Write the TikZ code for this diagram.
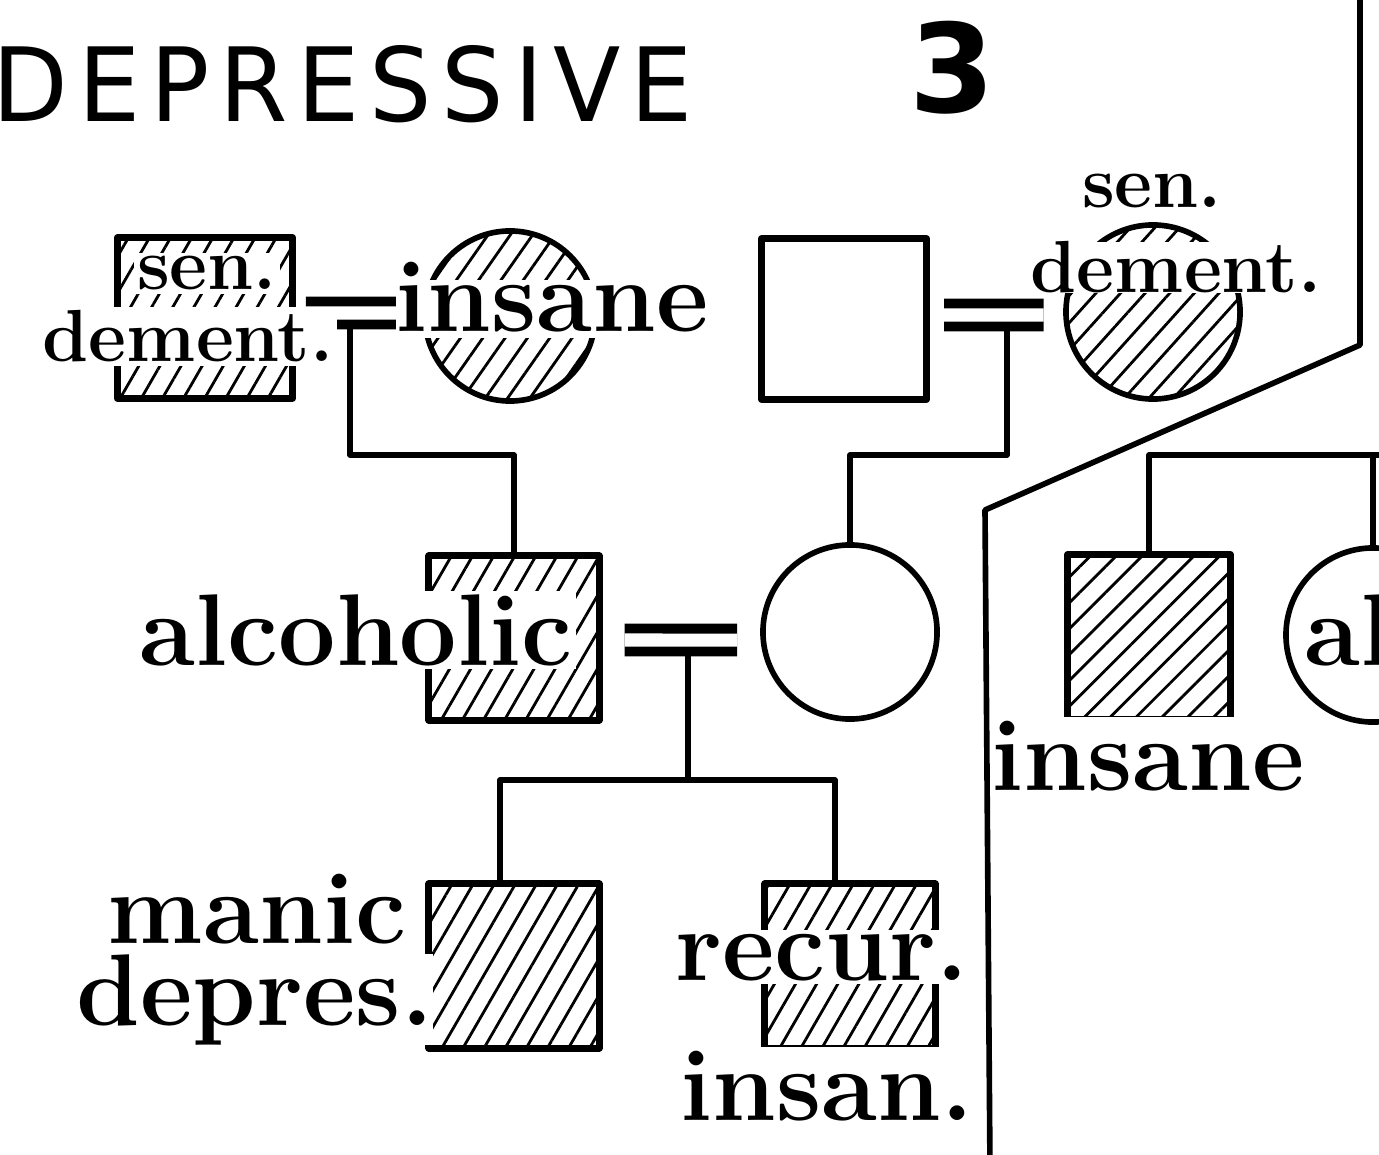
\documentclass[tikz,border=0pt]{standalone}
\usepackage{fontspec}
\newfontfamily\titlefont[LetterSpace=10]{DejaVu Sans}
\newfontfamily\numfont{DejaVu Sans}
\usetikzlibrary{patterns.meta}
\begin{document}
\begin{tikzpicture}[x=0.01cm, y=-0.01cm, line cap=round, line join=round,
  font=\bfseries\fontsize{29}{30}\selectfont,
  male/.style={draw, rectangle, line width=2pt, inner sep=0pt, minimum width=1.7cm, minimum height=1.64cm},
  female/.style={draw, circle, line width=1.6pt, inner sep=0pt, minimum size=1.74cm},
  hatched/.style={pattern={Lines[angle=#1,distance=5.2pt,line width=0.8pt]}},
  hatched/.default=60,
  wed/.style={line width=2.8pt, double distance=3.7pt, line cap=butt},
  drop/.style={line width=1.5pt},
  lbl/.style={fill=white, inner sep=1pt, anchor=base},
  small/.style={font=\bfseries\fontsize{21}{22}\selectfont}]
\useasboundingbox (0,0) rectangle (1379,1155);
\clip (0,0) rectangle (1379,1155);
% heading
\node[anchor=base west, inner sep=0pt, font=\titlefont] (title) at (-8,122)
  {\resizebox{6.99cm}{0.76cm}{DEPRESSIVE}};
\node[anchor=base, inner sep=0pt, font=\numfont\bfseries\fontsize{35}{35}\selectfont] (num) at (952,113) {3};
% grandparents
\node[male, hatched, minimum width=1.75cm, minimum height=1.6cm] (gfa) at (205,318) {};
\node[female, hatched=55, minimum size=1.7cm] (gma) at (510,316) {};
\node[male, minimum width=1.65cm, minimum height=1.6cm] (gfb) at (844,319) {};
\node[female, hatched=48] (gmb) at (1153,312) {};
% parents, uncle and aunt
\node[male, hatched] (father) at (514,638) {};
\node[female] (mother) at (850,632) {};
\node[male, hatched=45, minimum width=1.62cm, minimum height=1.65cm] (uncle) at (1149,637) {};
\node[female] (aunt) at (1373,635) {};
% children
\node[male, hatched] (son) at (514,966) {};
\node[male, hatched] (sonb) at (850,966) {};
% marriages
\draw[wed, shorten <=0.12cm, shorten >=0.25cm] ([yshift=0.05cm]gfa.east) -- ([yshift=0.03cm]gma.west);
\draw[wed, shorten <=0.14cm, shorten >=0.21cm] ([yshift=0.04cm]gfb.east) -- ([yshift=-0.03cm]gmb.west);
\draw[wed, shorten <=0.22cm, shorten >=0.23cm] ([yshift=-0.02cm]father.east) -- ([yshift=-0.08cm]mother.west);
\coordinate (ua) at (350,326);
\coordinate (ub) at (1007,328);
\coordinate (uc) at (688,654);
\coordinate (ud) at (1400,455);
% descent lines
\draw[drop] (ua) -- ++(0,129) -| (father.north);
\draw[drop] (ub) -- ++(0,127) -| (mother.north);
\draw[drop] (uc) -- ++(0,126) coordinate (sib);
\draw[drop] ([xshift=-0.14cm]son.north) |- (sib) -| ([xshift=-0.15cm]sonb.north);
\draw[drop] (uncle.north) |- (ud);
\draw[drop] (aunt.north) -- (aunt.north |- ud);
% labels
\node[lbl, small] (t1) at (207,290) {sen.};
\node[lbl, small] (t2) at (188,362) {dement.};
\node[lbl, inner sep=0pt, text height=0.52cm, text depth=0.06cm] (t3) at (552,332) {insane};
\node[lbl, small] (t4) at (1152,208) {sen.};
\node[lbl, small, inner sep=0pt] (t5) at (1176,293) {dement.};
\node[lbl] (t6) at (356,665) {alcoholic};
\node[lbl, inner sep=0pt] (t7) at (257,943) {manic};
\node[lbl, inner sep=0pt] (t8) at (255,1025) {depres.};
\node[lbl] (t9) at (822,980) {recur.};
\node[lbl] (t10) at (827,1120) {insan.};
\node[lbl] (t11) at (1148,790) {insane};
\node[lbl, anchor=base west] (t12) at (1300,665) {al};
% partition
\draw[line width=1.6pt] (1360,-10) -- (1360,345) -- (985,510) -- (990,1170);
\end{tikzpicture}
\end{document}
